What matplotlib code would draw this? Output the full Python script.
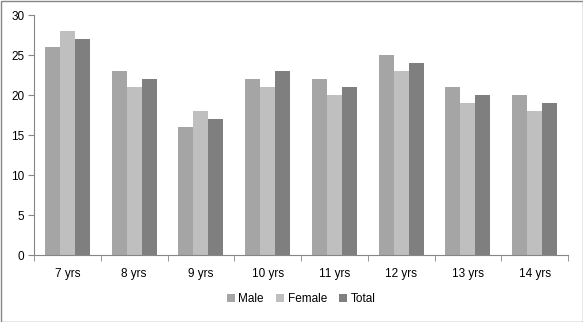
import matplotlib
matplotlib.use("Agg")
import matplotlib.pyplot as plt
import numpy as np
from matplotlib.patches import Rectangle

categories = ["7 yrs", "8 yrs", "9 yrs", "10 yrs", "11 yrs", "12 yrs", "13 yrs", "14 yrs"]
male = [26, 23, 16, 22, 22, 25, 21, 20]
female = [28, 21, 18, 21, 20, 23, 19, 18]
total = [27, 22, 17, 23, 21, 24, 20, 19]
series_names = ["Male", "Female", "Total"]
colors = ["#A5A5A5", "#BFBFBF", "#7F7F7F"]

plt.rcParams["font.family"] = ["Liberation Sans", "DejaVu Sans"]

fig = plt.figure(figsize=(5.83, 3.22), dpi=100)
ax = fig.add_axes([34 / 583, 1 - 255 / 322, (568 - 34) / 583, (255 - 15) / 322])

x = np.arange(len(categories))
w = 0.225
for i, (vals, name, c) in enumerate(zip([male, female, total], series_names, colors)):
    ax.bar(x + (i - 1) * w, vals, width=w, color=c, label=name, linewidth=0)

ax.set_xlim(-0.5, len(categories) - 0.5)
ax.set_ylim(0, 30)
ax.set_yticks(range(0, 31, 5))
ax.set_xticks(x)
ax.set_xticklabels(categories)
ax.set_xticks(np.arange(-0.5, len(categories), 1), minor=True)

for side in ["top", "right"]:
    ax.spines[side].set_visible(False)
for side in ["left", "bottom"]:
    ax.spines[side].set_color("#868686")
    ax.spines[side].set_linewidth(0.8)

ax.tick_params(axis="y", length=4, color="#868686", labelsize=8.5, labelcolor="#000000", pad=3)
ax.tick_params(axis="x", which="major", length=0, labelsize=8.5, pad=9)
ax.tick_params(axis="x", which="minor", length=4, color="#868686")

leg = ax.legend(loc="center", bbox_to_anchor=(0.5, -0.185), ncol=3, frameon=False,
                fontsize=8.5, handlelength=0.7, handleheight=0.7, handletextpad=0.3,
                columnspacing=1.0)

fig.patches.append(Rectangle((0.5 / 583, 0.5 / 322), 1 - 1 / 583, 1 - 1 / 322,
                             transform=fig.transFigure, fill=False,
                             edgecolor="#868686", linewidth=1.0))

fig.savefig("out.png", dpi=100)
